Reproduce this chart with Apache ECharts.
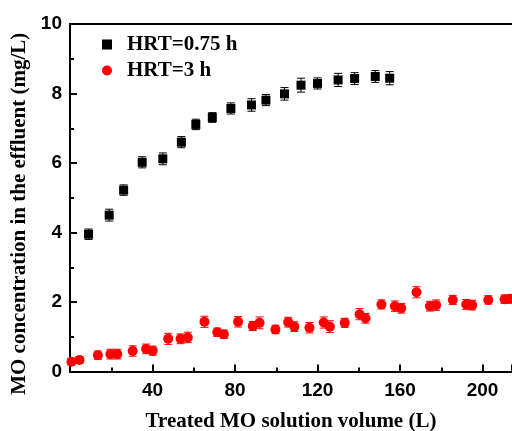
<!DOCTYPE html>
<html>
<head>
<meta charset="utf-8">
<script src="https://cdn.jsdelivr.net/npm/echarts@6/dist/echarts.min.js"></script>
<style>
  html, body { margin: 0; padding: 0; background: #fff; }
  #chart { width: 512px; height: 431px; }
</style>
</head>
<body>
<div id="chart"></div>
<script>
// HRT = 0.75 h
var hrt075X = [9, 19, 26, 35, 45, 54, 61, 69, 78, 88, 95, 104, 112, 120, 130, 138, 148, 155];
var hrt075Y = [3.95, 4.5, 5.22, 6.02, 6.12, 6.6, 7.11, 7.31, 7.57, 7.67, 7.81, 7.99, 8.24, 8.29, 8.39, 8.43, 8.49, 8.44];
var hrt075Err = [0.15, 0.17, 0.15, 0.16, 0.17, 0.16, 0.15, 0.14, 0.16, 0.18, 0.16, 0.18, 0.2, 0.16, 0.19, 0.17, 0.17, 0.19];

// HRT = 3 h
var hrt3X = [0.7, 4.6, 13.5, 19.6, 22.9, 30.4, 36.9, 40.1, 47.6, 53.6, 57.1, 65.2, 71.4, 74.6, 81.5, 88.6, 91.9, 99.6,
  105.8, 108.8, 116.1, 123.0, 126.0, 133.2, 140.4, 143.3, 151.0, 157.5, 160.6, 168.0, 174.5, 177.5, 185.6, 192.1, 195.0, 202.8, 210.7, 213.6];
var hrt3Y = [0.28, 0.33, 0.47, 0.5, 0.5, 0.59, 0.65, 0.6, 0.94, 0.94, 0.98, 1.43, 1.13, 1.07, 1.43, 1.31, 1.4, 1.21,
  1.42, 1.29, 1.26, 1.41, 1.29, 1.4, 1.65, 1.53, 1.93, 1.88, 1.82, 2.28, 1.88, 1.91, 2.06, 1.93, 1.91, 2.06, 2.08, 2.09];
var hrt3Err = [0.1, 0.1, 0.12, 0.14, 0.14, 0.15, 0.14, 0.13, 0.16, 0.14, 0.15, 0.16, 0.12, 0.12, 0.15, 0.13, 0.17, 0.12,
  0.14, 0.14, 0.15, 0.16, 0.17, 0.13, 0.16, 0.14, 0.13, 0.15, 0.14, 0.16, 0.14, 0.15, 0.13, 0.14, 0.14, 0.12, 0.12, 0.12];

var xTicks = [40, 80, 120, 160, 200];

function zip(xs, ys, es) {
  return xs.map(function (x, i) { return es ? [x, ys[i], es[i]] : [x, ys[i]]; });
}

function errorBars(color) {
  return function (params, api) {
    var x = api.value(0), y = api.value(1), e = api.value(2);
    var top = api.coord([x, y + e]);
    var bot = api.coord([x, y - e]);
    var w = 4;
    var st = { stroke: color, lineWidth: 1 };
    return {
      type: 'group',
      children: [
        { type: 'line', shape: { x1: top[0], y1: top[1], x2: bot[0], y2: bot[1] }, style: st },
        { type: 'line', shape: { x1: top[0] - w, y1: top[1], x2: top[0] + w, y2: top[1] }, style: st },
        { type: 'line', shape: { x1: bot[0] - w, y1: bot[1], x2: bot[0] + w, y2: bot[1] }, style: st }
      ]
    };
  };
}

var chart = echarts.init(document.getElementById('chart'));
var tickFont = { color: '#000', fontFamily: 'Liberation Sans', fontWeight: 'bold', fontSize: 19 };

chart.setOption({
  animation: false,
  grid: { left: 70, top: 24, right: 0, bottom: 59.5, outerBoundsMode: 'none' },
  legend: {
    orient: 'vertical',
    left: 97,
    top: 29,
    itemGap: 5,
    itemWidth: 10,
    itemHeight: 10,
    textStyle: { color: '#000', fontFamily: 'Liberation Serif', fontWeight: 'bold', fontSize: 21, padding: [0, 0, 0, 10] },
    data: [{ name: 'HRT=0.75 h', icon: 'rect' }, { name: 'HRT=3 h', icon: 'circle' }]
  },
  xAxis: [{
    type: 'value',
    min: 0,
    max: 214.3,
    interval: 40,
    name: 'Treated MO solution volume (L)',
    nameLocation: 'middle',
    nameGap: 40,
    nameTextStyle: { color: '#000', fontFamily: 'Liberation Serif', fontWeight: 'bold', fontSize: 21 },
    axisLine: { lineStyle: { color: '#000', width: 2 } },
    axisTick: { inside: true, length: 7, lineStyle: { color: '#000', width: 2 } },
    minorTick: { show: true, splitNumber: 2, length: 4, lineStyle: { color: '#000', width: 2 } },
    axisLabel: Object.assign({ margin: 10, formatter: function (v) { return xTicks.indexOf(v) >= 0 ? String(v) : ''; } }, tickFont),
    splitLine: { show: false }
  }, {
    type: 'value',
    position: 'top',
    min: 0,
    max: 214.3,
    axisLine: { show: true, lineStyle: { color: '#000', width: 2 } },
    axisTick: { show: false },
    axisLabel: { show: false },
    splitLine: { show: false }
  }],
  yAxis: {
    type: 'value',
    min: 0,
    max: 10,
    interval: 2,
    name: 'MO concentration in the effluent (mg/L)',
    nameLocation: 'middle',
    nameGap: 40,
    nameTextStyle: { color: '#000', fontFamily: 'Liberation Serif', fontWeight: 'bold', fontSize: 21, padding: [0, 32, 0, 0] },
    axisLine: { show: true, lineStyle: { color: '#000', width: 2 } },
    axisTick: { inside: true, length: 7, lineStyle: { color: '#000', width: 2 } },
    minorTick: { show: true, splitNumber: 2, length: 4, lineStyle: { color: '#000', width: 2 } },
    axisLabel: Object.assign({ margin: 8 }, tickFont),
    splitLine: { show: false }
  },
  series: [{
    name: 'HRT=0.75 h err',
    type: 'custom',
    renderItem: errorBars('#000'),
    data: zip(hrt075X, hrt075Y, hrt075Err),
    z: 1
  }, {
    name: 'HRT=3 h err',
    type: 'custom',
    renderItem: errorBars('#ff0000'),
    data: zip(hrt3X, hrt3Y, hrt3Err),
    z: 1
  }, {
    name: 'HRT=0.75 h',
    type: 'scatter',
    symbol: 'rect',
    symbolSize: 9,
    itemStyle: { color: '#000', opacity: 1 },
    data: zip(hrt075X, hrt075Y),
    z: 3
  }, {
    name: 'HRT=3 h',
    type: 'scatter',
    symbol: 'circle',
    symbolSize: 10,
    itemStyle: { color: '#ff0000', opacity: 1 },
    data: zip(hrt3X, hrt3Y),
    z: 3
  }]
});
</script>
</body>
</html>
